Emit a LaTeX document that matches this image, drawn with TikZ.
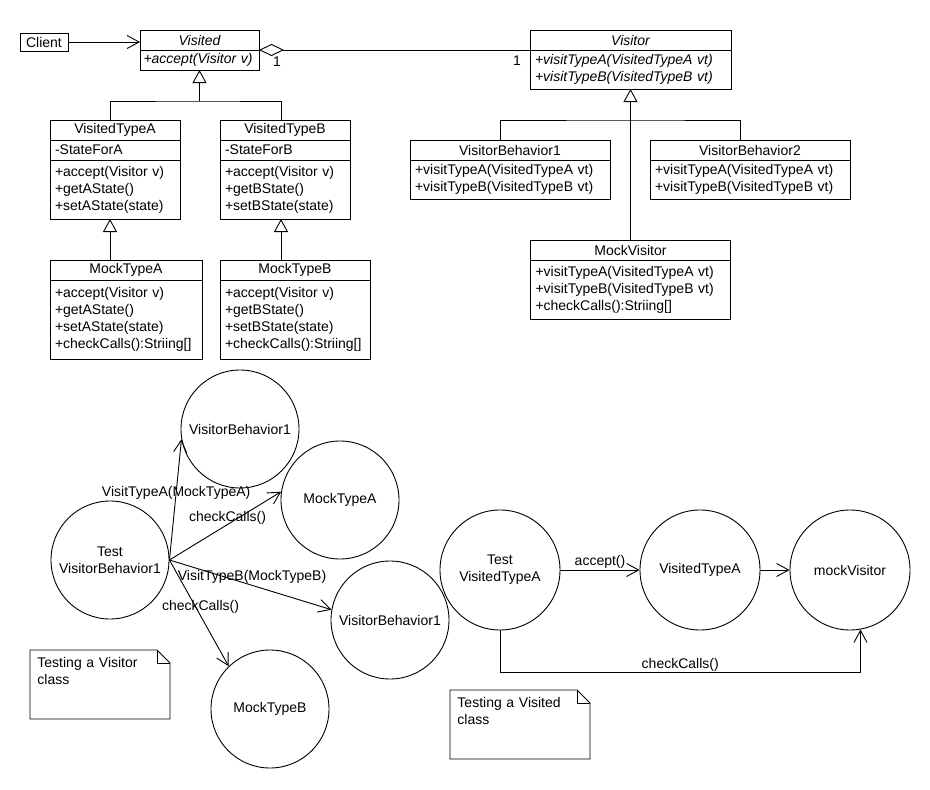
\documentclass[tikz,border=0pt]{standalone}
\usepackage{fontspec}
\setmainfont{Liberation Sans}
\usetikzlibrary{arrows.meta,positioning}

\begin{document}
\begin{tikzpicture}[
    x=1pt, y=-1pt,
    font=\fontsize{14}{17}\selectfont,
    line width=0.9pt,
    classname/.style={draw, minimum width=#1, minimum height=20pt, inner sep=0pt, outer sep=0pt},
    members/.style 2 args={draw, align=left, text width=#1, minimum height=#2, inner xsep=5pt, inner ysep=0pt, outer sep=0pt},
    object/.style={circle, draw, minimum size=#1, inner sep=0pt, align=center},
    object/.default=118pt,
    inherit/.style={-{Triangle[open, length=13pt, width=14pt]}},
    assoc/.style={-{Straight Barb[length=12pt, width=13pt]}},
    notetext/.style={anchor=north west, align=left, text width=126pt, inner sep=7pt}
]
\useasboundingbox (0,0) rectangle (930,790);

\node[draw, minimum width=48pt, minimum height=18pt, inner sep=0pt] (client) at (44,42) {Client};

\node[classname=119pt] (visited) at (199.5,40) {\itshape Visited};
\node[members={112pt}{20pt}, inner xsep=3.5pt, below=0pt of visited] (visited-ops) {\itshape\mbox{+accept(Visitor v)}};

\node[classname=201pt] (visitor) at (630.5,40) {\itshape Visitor};
\node[members={191pt}{39pt}, below=0pt of visitor] (visitor-ops) {\itshape +visitTypeA(VisitedTypeA vt)\\+visitTypeB(VisitedTypeB vt)};

\node[classname=130pt] (typea) at (115,130) {VisitedTypeA};
\node[members={120pt}{20pt}, below=0pt of typea] (typea-attr) {-StateForA};
\node[members={120pt}{59pt}, below=0pt of typea-attr] (typea-ops) {+accept(Visitor v)\\+getAState()\\+setAState(state)};

\node[classname=130pt] (typeb) at (285,130) {VisitedTypeB};
\node[members={120pt}{20pt}, below=0pt of typeb] (typeb-attr) {-StateForB};
\node[members={120pt}{59pt}, below=0pt of typeb-attr] (typeb-ops) {+accept(Visitor v)\\+getBState()\\+setBState(state)};

\node[classname=152pt] (mocka) at (126,270) {MockTypeA};
\node[members={142pt}{79pt}, below=0pt of mocka] (mocka-ops) {+accept(Visitor v)\\+getAState()\\+setAState(state)\\+checkCalls():Striing[]};

\node[classname=150pt] (mockb) at (295,270) {MockTypeB};
\node[members={140pt}{79pt}, below=0pt of mockb] (mockb-ops) {+accept(Visitor v)\\+getBState()\\+setBState(state)\\+checkCalls():Striing[]};

\node[classname=200pt] (beh1) at (510,150) {VisitorBehavior1};
\node[members={190pt}{39pt}, below=0pt of beh1] (beh1-ops) {+visitTypeA(VisitedTypeA vt)\\+visitTypeB(VisitedTypeB vt)};

\node[classname=200pt] (beh2) at (750,150) {VisitorBehavior2};
\node[members={190pt}{39pt}, below=0pt of beh2] (beh2-ops) {+visitTypeA(VisitedTypeA vt)\\+visitTypeB(VisitedTypeB vt)};

\node[classname=200pt] (mockvis) at (630.5,250) {MockVisitor};
\node[members={190pt}{59pt}, below=0pt of mockvis] (mockvis-ops) {+visitTypeA(VisitedTypeA vt)\\+visitTypeB(VisitedTypeB vt)\\+checkCalls():Striing[]};

\draw[assoc] (client) -- (client -| visited.west);
\draw[{Diamond[open, length=25pt, width=12pt]}-] (visited.south east) -- (visitor.south west)
    node[at start, xshift=18pt, yshift=-12pt] (mult-visited) {1}
    node[at end, xshift=-13pt, yshift=-11pt] (mult-visitor) {1};

\coordinate (visited-join) at ([yshift=-31pt]visited-ops.south);
\draw ([xshift=-5pt]typea.north) |- (visited-join) -| ([xshift=-4pt]typeb.north);
\draw[inherit] (visited-join) -- (visited-ops.south);

\coordinate (typea-foot) at ([xshift=-5pt]typea-ops.south);
\coordinate (typeb-foot) at ([xshift=-4pt]typeb-ops.south);
\draw[inherit] (typea-foot |- mocka.north) -- (typea-foot);
\draw[inherit] (typeb-foot |- mockb.north) -- (typeb-foot);

\coordinate (visitor-join) at ([yshift=-31pt]visitor-ops.south);
\draw ([xshift=-10pt]beh1.north) |- (visitor-join) -| ([xshift=-10pt]beh2.north);
\draw[inherit] (mockvis.north) -- (visitor-ops.south);

\node[object] (test-beh) at (110,560) {Test\\VisitorBehavior1};
\node[object] (beh-a) at (240,429) {VisitorBehavior1};
\node[object] (mock-a) at (340,500) {MockTypeA};
\node[object] (beh-b) at (390,620) {VisitorBehavior1};
\node[object] (mock-b) at (270,709) {MockTypeB};

\draw[assoc] (test-beh.east) -- (beh-a.190) node[pos=0.56] (call-visita) {VisitTypeA(MockTypeA)};
\draw[assoc] (test-beh.east) -- (mock-a.172) node[pos=0.52, yshift=7pt] (call-checka) {checkCalls()};
\draw[assoc] (test-beh.east) -- (beh-b.170) node[pos=0.51, yshift=8pt] (call-visitb) {VisitTypeB(MockTypeB)};
\draw[assoc] (test-beh.east) -- (mock-b.134) node[pos=0.44, xshift=5pt] (call-checkb) {checkCalls()};

\node[object=120pt] (test-vis) at (500,570) {Test\\VisitedTypeA};
\node[object=120pt] (typea-obj) at (700,570) {VisitedTypeA};
\node[object=120pt] (mockvis-obj) at (850,570) {mockVisitor};

\draw[assoc] (test-vis) -- (typea-obj) node[midway, above, inner sep=1pt] (call-accept) {accept()};
\draw[assoc] (typea-obj) -- (mockvis-obj);
\draw[assoc] (test-vis.south) -- ++(0,42) -| (mockvis-obj.-80) node[pos=0.25, above, inner sep=1pt] (call-checkvis) {checkCalls()};

\node[notetext] (note-visitor) at (30,650) {Testing a Visitor\\class};
\draw (note-visitor.north west) -- ++(127,0) -- ++(13,13) -- ++(0,56) -- ++(-140,0) -- cycle;
\draw (note-visitor.north west) ++(127,0) -- ++(0,13) -- ++(13,0);

\node[notetext] (note-visited) at (450,690) {Testing a Visited\\class};
\draw (note-visited.north west) -- ++(127,0) -- ++(13,13) -- ++(0,56) -- ++(-140,0) -- cycle;
\draw (note-visited.north west) ++(127,0) -- ++(0,13) -- ++(13,0);
\end{tikzpicture}
\end{document}
